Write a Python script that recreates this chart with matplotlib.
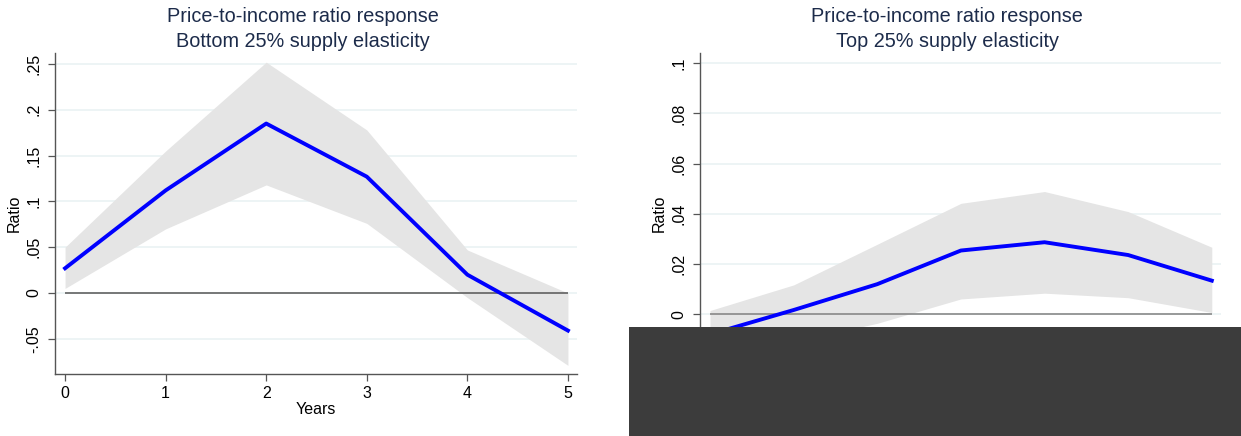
import matplotlib
matplotlib.use("Agg")
import matplotlib.pyplot as plt
from matplotlib.patches import Rectangle

plt.rcParams['font.family'] = ['Liberation Sans', 'DejaVu Sans']

# impulse responses of the price-to-income ratio, by supply elasticity group
years_bottom = [0, 1, 2, 3, 4, 5]
irf_bottom = [0.027, 0.112, 0.185, 0.127, 0.020, -0.041]
upper_bottom = [0.050, 0.155, 0.252, 0.178, 0.047, 0.000]
lower_bottom = [0.005, 0.070, 0.118, 0.076, -0.005, -0.079]

years_top = [0, 1, 2, 3, 4, 5, 6]
irf_top = [-0.008, 0.0017, 0.012, 0.0254, 0.0287, 0.0236, 0.0134]
upper_top = [0.0015, 0.0117, 0.0279, 0.0442, 0.0489, 0.0409, 0.0267]
lower_top = [-0.018, -0.011, -0.0036, 0.0061, 0.0084, 0.0066, 0.0007]

yticks_bottom = [-0.05, 0, 0.05, 0.1, 0.15, 0.2, 0.25]
yticklabels_bottom = ['-.05', '0', '.05', '.1', '.15', '.2', '.25']
yticks_top = [0, 0.02, 0.04, 0.06, 0.08, 0.1]
yticklabels_top = ['0', '.02', '.04', '.06', '.08', '.1']

title_color = '#1c2b4a'
grid_color = '#eaf2f3'

W, H = 1241, 436
fig = plt.figure(figsize=(W / 100, H / 100), dpi=100)
ax1 = fig.add_axes([55 / W, 62 / H, 522 / W, 321 / H])
ax2 = fig.add_axes([700 / W, 62 / H, 521 / W, 321 / H])


def style_panel(ax, x, irf, lo, hi, yticks, ylabels, xlim, ylim, zero_color):
    ax.fill_between(x, lo, hi, color='#e5e5e5', lw=0, zorder=1)
    ax.plot(x, irf, color='#0000ff', lw=2.8, zorder=3)
    ax.hlines(0, x[0], x[-1], color=zero_color, lw=1.1, zorder=2)
    ax.set_xlim(*xlim)
    ax.set_ylim(*ylim)
    ax.set_yticks(yticks)
    ax.set_yticklabels(ylabels, rotation=90, va='center', fontsize=11.5)
    ax.set_xticks(x)
    ax.set_xticklabels([str(v) for v in x], fontsize=11.5)
    ax.yaxis.grid(True, color=grid_color, lw=1.2, zorder=0)
    ax.set_axisbelow(True)
    for s in ['top', 'right']:
        ax.spines[s].set_visible(False)
    for s in ['left', 'bottom']:
        ax.spines[s].set_color('#555555')
        ax.spines[s].set_linewidth(1.0)
    ax.tick_params(colors='#555555', labelcolor='black', length=5, width=0.9)
    ax.tick_params(axis='y', pad=4.6)
    ax.set_ylabel('Ratio', fontsize=11.5, labelpad=3.5)
    ax.set_xlabel('Years', fontsize=11.5, labelpad=0.5)


style_panel(ax1, years_bottom, irf_bottom, lower_bottom, upper_bottom,
            yticks_bottom, yticklabels_bottom,
            (-0.1, 5.09), (-0.0884, 0.262), '#555555')
style_panel(ax2, years_top, irf_top, lower_top, upper_top,
            yticks_top, yticklabels_top,
            (-0.12, 6.11), (-0.0238, 0.1041), '#808080')

# panel titles, centred over each graph region
fig.text(303 / W, 1 - 29 / H,
         'Price-to-income ratio response\nBottom 25% supply elasticity',
         ha='center', va='center', fontsize=14.3, color=title_color, linespacing=1.36)
fig.text(947 / W, 1 - 29 / H,
         'Price-to-income ratio response\nTop 25% supply elasticity',
         ha='center', va='center', fontsize=14.3, color=title_color, linespacing=1.36)

# dark block over the lower right corner
fig.patches.append(Rectangle((629 / W, 0), 1 - 629 / W, 109.5 / H,
                             transform=fig.transFigure, facecolor='#3c3c3c',
                             edgecolor='none', zorder=10))

fig.savefig('out.png', dpi=100)
